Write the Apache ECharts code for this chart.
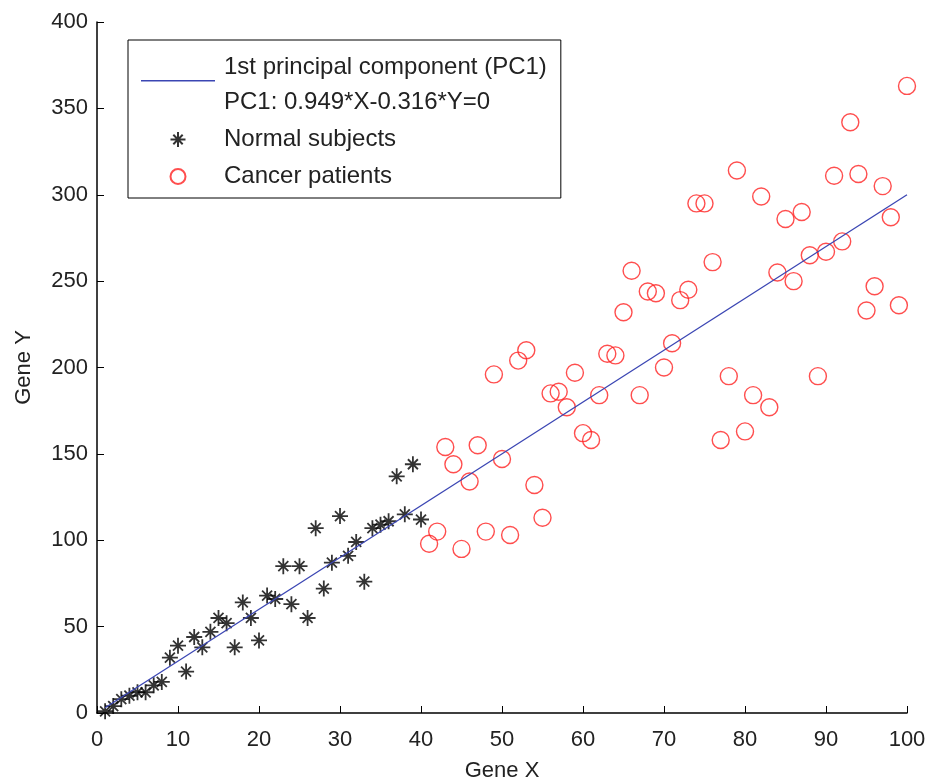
<!DOCTYPE html>
<html>
<head>
<meta charset="utf-8">
<script src="https://cdn.jsdelivr.net/npm/echarts@6/dist/echarts.min.js"></script>
<style>
  html, body { margin: 0; padding: 0; background: #fff; }
  #chart { width: 927px; height: 783px; }
</style>
</head>
<body>
<div id="chart"></div>
<script>
// Normal subjects (Gene X, Gene Y)
const normalX = [1, 2, 3, 4, 5, 6, 7, 8, 9, 10, 11, 12, 13, 14, 15, 16, 17, 18, 19, 20,
  21, 22, 23, 24, 25, 26, 27, 28, 29, 30, 31, 32, 33, 34, 35, 36, 37, 38, 39, 40];
const normalY = [1, 4, 8, 10, 12, 12, 16, 18, 32, 39, 24, 44, 38, 47, 55, 52, 38, 64, 55, 42,
  68, 66, 85, 63, 85, 55, 107, 72, 87, 114, 91, 99, 76, 107, 109, 111, 137, 115, 144, 112];

// Cancer patients
const cancerX = [41, 42, 43, 44, 45, 46, 47, 48, 49, 50, 51, 52, 53, 54, 55, 56, 57, 58, 59, 60,
  61, 62, 63, 64, 65, 66, 67, 68, 69, 70, 71, 72, 73, 74, 75, 76, 77, 78, 79, 80,
  81, 82, 83, 84, 85, 86, 87, 88, 89, 90, 91, 92, 93, 94, 95, 96, 97, 98, 99, 100];
const cancerY = [98, 105, 154, 144, 95, 134, 155, 105, 196, 147, 103, 204, 210, 132, 113, 185, 186, 177, 197, 162,
  158, 184, 208, 207, 232, 256, 184, 244, 243, 200, 214, 239, 245, 295, 295, 261, 158, 195, 314, 163,
  184, 299, 177, 255, 286, 250, 290, 265, 195, 267, 311, 273, 342, 312, 233, 247, 305, 287, 236, 363];

// PC1 line end points
const pcX = [1, 100];
const pcY = [3, 300];

const xTicks = [0, 10, 20, 30, 40, 50, 60, 70, 80, 90, 100];
const yTicks = [0, 50, 100, 150, 200, 250, 300, 350, 400];

const pcName = '1st principal component (PC1)';
const pcEquation = 'PC1: 0.949*X-0.316*Y=0';

const font = 'Liberation Sans, Arial, sans-serif';
const starPath = 'path://M0,-8L0,8M-8,0L8,0M-5,-5L5,5M-5,5L5,-5';
// thin bar, with a tiny point below it so the bar sits a bit above the icon centre
const lineIcon = 'path://M0,0L74,0L74,1.6L0,1.6ZM74,10L74,10.01L73.99,10.01Z';

const zip = (xs, ys) => xs.map((x, i) => [x, ys[i]]);

const chart = echarts.init(document.getElementById('chart'));

chart.setOption({
  backgroundColor: '#fff',
  animation: false,
  grid: { left: 97, right: 20, top: 22, bottom: 70, outerBoundsMode: 'none' },
  legend: {
    left: 128,
    top: 40,
    orient: 'vertical',
    selectedMode: false,
    backgroundColor: '#fff',
    borderColor: '#000',
    borderWidth: 1,
    padding: [10, 14, 4, 13],
    itemGap: 2,
    itemWidth: 74,
    itemHeight: 15,
    textStyle: { fontFamily: font, fontSize: 24, color: '#222', lineHeight: 35, padding: [0, 0, 0, 4] },
    formatter: function (name) {
      return name === pcName ? name + '\n' + pcEquation : name;
    },
    data: [
      { name: pcName, icon: lineIcon },
      'Normal subjects',
      'Cancer patients'
    ]
  },
  xAxis: {
    type: 'value',
    min: 0, max: 100, interval: 10,
    name: 'Gene X',
    nameLocation: 'middle',
    nameGap: 47,
    nameTextStyle: { fontFamily: font, fontSize: 22, color: '#222' },
    axisLine: { lineStyle: { color: '#000', width: 1.5 } },
    axisTick: { inside: true, length: 7, lineStyle: { color: '#000' } },
    axisLabel: {
      fontFamily: font, fontSize: 22, color: '#222', margin: 16,
      formatter: v => xTicks.includes(v) ? String(v) : ''
    },
    splitLine: { show: false }
  },
  yAxis: {
    type: 'value',
    min: 0, max: 400, interval: 50,
    name: 'Gene Y',
    nameLocation: 'middle',
    nameGap: 62,
    nameTextStyle: { fontFamily: font, fontSize: 22, color: '#222' },
    axisLine: { show: true, lineStyle: { color: '#000', width: 1.5 } },
    axisTick: { show: true, inside: true, length: 7, lineStyle: { color: '#000' } },
    axisLabel: {
      fontFamily: font, fontSize: 22, color: '#222', margin: 9,
      formatter: v => yTicks.includes(v) ? String(v) : ''
    },
    splitLine: { show: false }
  },
  series: [
    {
      name: pcName,
      type: 'line',
      symbol: 'none',
      lineStyle: { color: '#3b46b3', width: 1.3 },
      itemStyle: { color: '#3b46b3' },
      data: zip(pcX, pcY),
      z: 3
    },
    {
      name: 'Normal subjects',
      type: 'scatter',
      symbol: starPath,
      symbolSize: 16,
      itemStyle: { color: '#000', borderColor: '#000', borderWidth: 1.8 },
      data: zip(normalX, normalY),
      z: 2
    },
    {
      name: 'Cancer patients',
      type: 'scatter',
      symbol: 'circle',
      symbolSize: 17,
      itemStyle: { color: 'rgba(255,255,255,0)', borderColor: '#f22', borderWidth: 1.4 },
      data: zip(cancerX, cancerY),
      z: 2
    }
  ]
});
</script>
</body>
</html>
